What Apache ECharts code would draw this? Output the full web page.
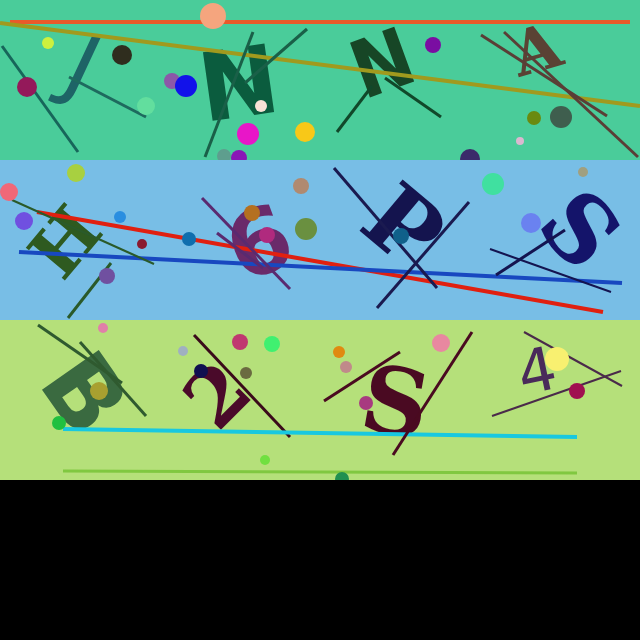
<!DOCTYPE html>
<html>
<head>
<meta charset="utf-8">
<script src="https://cdn.jsdelivr.net/npm/echarts@6/dist/echarts.min.js"></script>
<style>
  html, body { margin: 0; padding: 0; background: #000; }
  #chart { width: 640px; height: 640px; }
</style>
</head>
<body>
<div id="chart"></div>
<script>
// stripes, top to bottom (last one is the black footer)
const bandRanges = [[0, 160], [160, 320], [320, 480], [480, 640]];
const bandColors = ['#4ACC9A', '#78BEE6', '#B5E07A', '#000000'];

// glyphs
const glyphTexts = ['J', 'N', 'N', 'A', 'H', '6', 'P', 'S', 'B', '2', 'S', '4'];
const glyphPoints = [[80, 72], [240, 92], [385, 70], [538, 55], [70, 246], [262, 250],
  [398, 232], [574, 235], [78, 398], [222, 400], [394, 410], [538, 376]];
const glyphSizes = [85, 95, 80, 62, 70, 90, 92, 92, 95, 78, 92, 60];
const glyphAngles = [-25, 8, 20, 16, 50, 20, -40, -48, -55, 45, -10, 12];
const glyphStretch = [1, 1, 0.9, 1, 1, 1, 1, 1, 1, 1, 1, 1];
const glyphColors = ['#1E6466', '#0B5C3E', '#174626', '#5A4234', '#2E5A20', '#6A2A6A',
  '#14144E', '#14146A', '#3A6A40', '#4A0A2A', '#4A0A22', '#4A2A5A'];
const glyphSerif = [false, false, false, true, true, false, true, true, false, true, true, false];
const glyphBold = [false, true, true, true, true, true, true, true, true, true, true, false];

// straight strokes: start, end
const lineStarts = [[10, 22], [0, 23], [2, 46], [69, 77], [253, 32], [307, 29], [337, 132], [385, 78],
  [481, 35], [504, 32],
  [37, 212], [19, 252], [12, 200], [68, 318], [202, 198], [217, 233], [334, 168], [469, 202],
  [490, 249], [496, 275],
  [38, 325], [80, 342], [194, 335], [63, 429], [63, 471], [324, 401], [472, 332], [524, 332], [492, 416]];
const lineEnds = [[630, 22], [640, 106], [78, 152], [146, 117], [205, 157], [245, 83], [372, 86], [441, 117],
  [607, 116], [638, 157],
  [603, 312], [622, 283], [154, 264], [111, 263], [290, 289], [263, 268], [437, 288], [377, 308],
  [611, 292], [565, 230],
  [122, 383], [146, 416], [290, 437], [577, 437], [577, 473], [400, 352], [393, 455], [622, 386], [621, 371]];
const lineColors = ['#E95A2A', '#A09A1E', '#17665A', '#1E6A5E', '#1A6048', '#1A6048', '#11482A', '#11482A',
  '#5A3E36', '#5A3E36',
  '#E02010', '#1848C0', '#2A5A2A', '#2A5A2A', '#5A2A70', '#5A2A70', '#1A1A50', '#1A1A50',
  '#141450', '#141450',
  '#2F5A2F', '#2F5A2F', '#3A0A1A', '#18C8E0', '#80C840', '#4A0A20', '#4A0A20', '#4A2A4A', '#4A2A4A'];
const lineWidths = [4, 4, 3, 3, 3, 3, 3, 3, 3, 3,
  4, 4, 2, 3, 3, 3, 3, 3, 2, 3,
  3, 3, 3, 4, 3, 3, 3, 2, 2];

// dots: centre, radius
const dotPoints = [[213, 16], [48, 43], [122, 55], [27, 87], [172, 81], [186, 86], [146, 106], [261, 106],
  [248, 134], [305, 132], [224, 156], [239, 158], [433, 45], [534, 118], [561, 117], [520, 141], [470, 159],
  [9, 192], [76, 173], [24, 221], [120, 217], [142, 244], [189, 239], [107, 276], [301, 186], [306, 229],
  [252, 213], [267, 235], [493, 184], [583, 172], [531, 223], [401, 236],
  [103, 328], [183, 351], [240, 342], [272, 344], [201, 371], [246, 373], [99, 391], [59, 423], [265, 460],
  [339, 352], [346, 367], [441, 343], [366, 403], [557, 359], [577, 391], [342, 479]];
const dotRadii = [13, 6, 10, 10, 8, 11, 9, 6, 11, 10, 7, 8, 8, 7, 11, 4, 10,
  9, 9, 9, 6, 5, 7, 8, 8, 11, 8, 8, 11, 5, 10, 8,
  5, 5, 8, 8, 7, 6, 9, 7, 5, 6, 6, 9, 7, 12, 8, 7];
const dotColors = ['#F5A57E', '#CDF03E', '#2F2D1E', '#94195A', '#8C58A8', '#1212EA', '#62DE9E', '#F8E2D6',
  '#E816C8', '#F8C818', '#5E9E8E', '#8A16B6', '#7A0EA2', '#6A8A10', '#3F5E4E', '#DAB8D0', '#3B2A6A',
  '#F06878', '#A8D040', '#7050E0', '#2A8EE0', '#8A1A30', '#0F6EAE', '#7050A0', '#B08A70', '#6A9040',
  '#B47020', '#B02A7E', '#40E0A0', '#A0A080', '#6A82F0', '#10608A',
  '#E080A8', '#A0B0C0', '#C03870', '#40F070', '#101050', '#6A6A40', '#A8A030', '#20C040', '#70E040',
  '#E08A10', '#C08A8A', '#E888A0', '#A83A80', '#F8F070', '#A01050', '#209050'];

const bandOf = (y) => Math.min(3, Math.floor(y / 160));

function buildSeries() {
  const series = [];
  bandRanges.forEach((range, b) => {
    series.push({
      type: 'custom',
      z: b * 4,
      silent: true,
      data: [[range[0], range[1]]],
      renderItem: (params, api) => {
        const p0 = api.coord([0, api.value(0)]);
        const p1 = api.coord([640, api.value(1)]);
        return {
          type: 'rect',
          shape: { x: p0[0], y: p0[1], width: p1[0] - p0[0], height: p1[1] - p0[1] },
          style: { fill: bandColors[b] }
        };
      }
    });

    const glyphIdx = glyphPoints.map((p, i) => i).filter(i => bandOf(glyphPoints[i][1]) === b);
    series.push({
      type: 'custom',
      z: b * 4 + 1,
      silent: true,
      data: glyphIdx.map(i => [glyphPoints[i][0], glyphPoints[i][1], i]),
      renderItem: (params, api) => {
        const i = api.value(2);
        const p = api.coord([api.value(0), api.value(1)]);
        return {
          type: 'text',
          x: p[0],
          y: p[1],
          rotation: glyphAngles[i] * Math.PI / 180,
          scaleX: glyphStretch[i],
          style: {
            text: glyphTexts[i],
            fill: glyphColors[i],
            fontSize: glyphSizes[i],
            fontFamily: glyphSerif[i] ? 'DejaVu Serif' : 'DejaVu Sans',
            fontWeight: glyphBold[i] ? 'bold' : 'normal',
            align: 'center',
            verticalAlign: 'middle'
          }
        };
      }
    });

    const lineIdx = lineStarts.map((p, i) => i).filter(i => bandOf(lineStarts[i][1]) === b);
    series.push({
      type: 'lines',
      coordinateSystem: 'cartesian2d',
      z: b * 4 + 2,
      silent: true,
      data: lineIdx.map(i => ({
        coords: [lineStarts[i], lineEnds[i]],
        lineStyle: { color: lineColors[i], width: lineWidths[i], opacity: 1 }
      }))
    });

    const dotIdx = dotPoints.map((p, i) => i).filter(i => bandOf(dotPoints[i][1]) === b);
    series.push({
      type: 'scatter',
      z: b * 4 + 3,
      silent: true,
      symbol: 'circle',
      data: dotIdx.map(i => ({
        value: dotPoints[i],
        symbolSize: dotRadii[i] * 2,
        itemStyle: { color: dotColors[i], opacity: 1 }
      }))
    });
  });
  return series;
}

const chart = echarts.init(document.getElementById('chart'));
chart.setOption({
  animation: false,
  backgroundColor: '#000',
  grid: { left: 0, right: 0, top: 0, bottom: 0 },
  xAxis: { type: 'value', min: 0, max: 640, show: false },
  yAxis: { type: 'value', min: 0, max: 640, inverse: true, show: false },
  series: buildSeries()
});
</script>
</body>
</html>
